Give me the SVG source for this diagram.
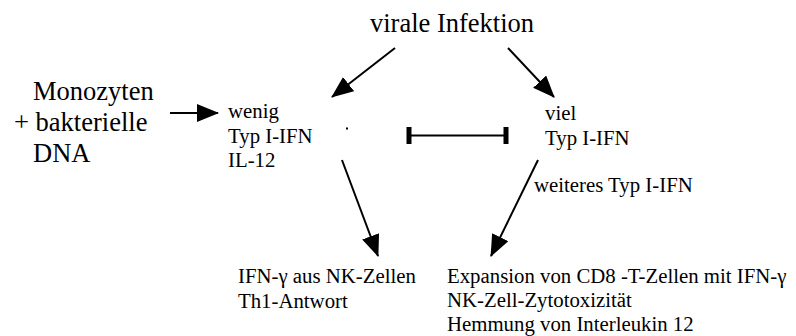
<svg xmlns="http://www.w3.org/2000/svg" width="796" height="336" viewBox="0 0 796 336">
<style>
text{fill:#000}
.big{font-size:26.5px}
.sm{font-size:20.8px}
.ln{stroke:#000;stroke-width:2;fill:none}
.arr{marker-end:url(#ah)}
</style>
<defs>
<marker id="ah" markerUnits="userSpaceOnUse" markerWidth="23" markerHeight="19" refX="21" refY="9" orient="auto" viewBox="0 0 23 19">
<path d="M0,0 L22,9 L0,18 z" fill="#000"/>
</marker>
</defs>
<rect width="796" height="336" fill="#fff"/>
<g font-family="Liberation Serif, Times New Roman, serif">
<g id="virale"><text class="big" x="370" y="32">virale Infektion</text></g>
<g id="monozyten">
<text class="big" x="33" y="100">Monozyten</text>
<text class="big" x="14" y="131">+ bakterielle</text>
<text class="big" x="33" y="162">DNA</text>
</g>
<g id="wenig">
<text class="sm" x="228" y="118">wenig</text>
<text class="sm" x="228" y="143">Typ I-IFN</text>
<text class="sm" x="228" y="167">IL-12</text>
<rect x="346" y="127.5" width="2" height="2" fill="#000"/>
</g>
<g id="viel">
<text class="sm" x="545" y="120">viel</text>
<text class="sm" x="545" y="145">Typ I-IFN</text>
</g>
<g id="weiteres"><text class="sm" x="534" y="192">weiteres Typ I-IFN</text></g>
<g id="th1">
<text class="sm" x="238" y="283">IFN-γ aus NK-Zellen</text>
<text class="sm" x="238" y="308">Th1-Antwort</text>
</g>
<g id="expansion">
<text class="sm" x="447" y="283">Expansion von CD8 -T-Zellen mit IFN-γ</text>
<text class="sm" x="447" y="307">NK-Zell-Zytotoxizität</text>
<text class="sm" x="447" y="331">Hemmung von Interleukin 12</text>
</g>
</g>
<g id="connectors">
<line class="ln arr" x1="395" y1="48" x2="332" y2="97"/>
<line class="ln arr" x1="508" y1="48" x2="554" y2="97"/>
<line class="ln arr" x1="170" y1="113" x2="218" y2="113"/>
<line class="ln arr" x1="342" y1="160" x2="378" y2="256"/>
<line class="ln arr" x1="538" y1="160" x2="491" y2="256"/>
<line class="ln" x1="409" y1="135.5" x2="506" y2="135.5"/>
<rect x="406.5" y="127" width="5" height="17" fill="#000"/>
<rect x="503.5" y="127" width="5" height="17" fill="#000"/>
</g>
</svg>
